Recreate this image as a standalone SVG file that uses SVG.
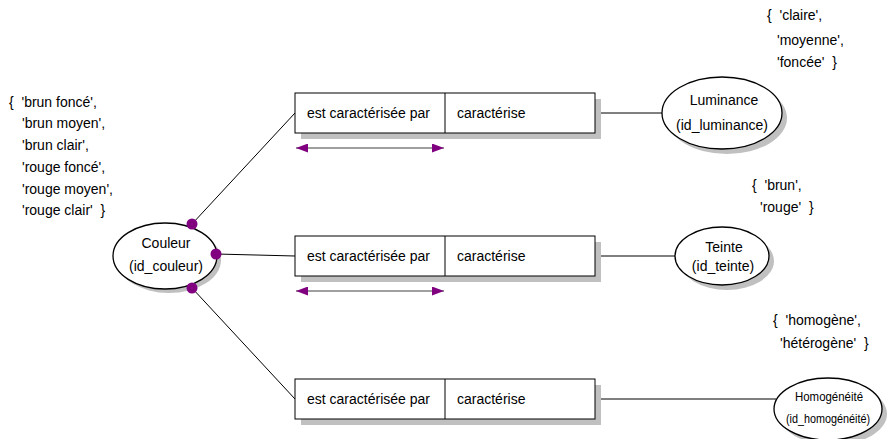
<svg xmlns="http://www.w3.org/2000/svg" width="890" height="439" viewBox="0 0 890 439">
<defs>
<marker id="ah" viewBox="0 0 12 9" refX="12" refY="4.5" markerWidth="12" markerHeight="9" markerUnits="userSpaceOnUse" orient="auto-start-reverse">
<path d="M0,0 L12,4.5 L0,9 Z" fill="#800080"/>
</marker>
</defs>
<style>
text{font-family:"Liberation Sans",Arial,sans-serif;font-size:14px;fill:#000}
.shadow{fill:#c0c0c0;stroke:none}
.box{fill:#fff;stroke:#000;stroke-width:1}
.ell{fill:#fff;stroke:#000;stroke-width:1.3}
.ln{stroke:#000;stroke-width:1;fill:none}
.dot{fill:#800080}
.arr{stroke:#404040;stroke-width:1.2;fill:none;marker-start:url(#ah);marker-end:url(#ah)}
.c{text-anchor:middle}
.sm{font-size:13px}
</style>
<rect width="890" height="439" fill="#fff"/>

<g id="connectors">
<line class="ln" x1="192" y1="224" x2="295" y2="113"/>
<line class="ln" x1="216" y1="254" x2="295" y2="256"/>
<line class="ln" x1="192" y1="288" x2="295" y2="399"/>
<line class="ln" x1="595" y1="113" x2="662" y2="113"/>
<line class="ln" x1="595" y1="256" x2="675" y2="256"/>
<line class="ln" x1="595" y1="399" x2="776" y2="399"/>
<line class="arr" x1="296" y1="148" x2="444" y2="148"/>
<line class="arr" x1="296" y1="291" x2="444" y2="291"/>
</g>

<g id="couleur">
<ellipse class="shadow" cx="169" cy="260" rx="52" ry="33"/>
<ellipse class="ell" cx="165" cy="256" rx="52" ry="33"/>
<text class="c" x="166" y="248">Couleur</text>
<text class="c" x="166" y="271">(id_couleur)</text>
<circle class="dot" cx="192" cy="224" r="5.5"/>
<circle class="dot" cx="216" cy="254" r="5.5"/>
<circle class="dot" cx="192" cy="288" r="5.5"/>
</g>

<g id="rel1">
<rect class="shadow" x="301" y="99" width="300" height="40"/>
<rect class="box" x="295" y="93" width="300" height="40"/>
<line class="ln" x1="445" y1="93" x2="445" y2="133"/>
<text x="307" y="118">est caractérisée par</text>
<text x="457" y="118">caractérise</text>
</g>

<g id="rel2">
<rect class="shadow" x="301" y="242" width="300" height="40"/>
<rect class="box" x="295" y="236" width="300" height="40"/>
<line class="ln" x1="445" y1="236" x2="445" y2="276"/>
<text x="307" y="261">est caractérisée par</text>
<text x="457" y="261">caractérise</text>
</g>

<g id="rel3">
<rect class="shadow" x="301" y="385" width="300" height="40"/>
<rect class="box" x="295" y="379" width="300" height="40"/>
<line class="ln" x1="445" y1="379" x2="445" y2="419"/>
<text x="307" y="404">est caractérisée par</text>
<text x="457" y="404">caractérise</text>
</g>

<g id="luminance">
<ellipse class="shadow" cx="727" cy="118" rx="60" ry="36"/>
<ellipse class="ell" cx="722" cy="113" rx="60" ry="36"/>
<text class="c" x="724" y="105">Luminance</text>
<text class="c" x="722" y="130">(id_luminance)</text>
</g>

<g id="teinte">
<ellipse class="shadow" cx="727" cy="261" rx="47" ry="29"/>
<ellipse class="ell" cx="722" cy="256" rx="47" ry="29"/>
<text class="c" x="724" y="252">Teinte</text>
<text class="c" x="723" y="271">(id_teinte)</text>
</g>

<g id="homogeneite">
<ellipse class="shadow" cx="833" cy="414" rx="54" ry="31"/>
<ellipse class="ell" cx="828" cy="409" rx="54" ry="31"/>
<text class="c sm" x="829" y="401" textLength="68" lengthAdjust="spacingAndGlyphs">Homogénéité</text>
<text class="c sm" x="828" y="423" textLength="84" lengthAdjust="spacingAndGlyphs">(id_homogénéité)</text>
</g>

<g id="domains">
<text x="9" y="107" xml:space="preserve">{  'brun foncé',</text>
<text x="22" y="128">'brun moyen',</text>
<text x="22" y="150">'brun clair',</text>
<text x="22" y="172">'rouge foncé',</text>
<text x="22" y="194">'rouge moyen',</text>
<text x="22" y="215" xml:space="preserve">'rouge clair'  }</text>
<text x="767" y="20" xml:space="preserve">{  'claire',</text>
<text x="777" y="45">'moyenne',</text>
<text x="777" y="67" xml:space="preserve">'foncée'  }</text>
<text x="752" y="190" xml:space="preserve">{  'brun',</text>
<text x="760" y="212" xml:space="preserve">'rouge'  }</text>
<text x="773" y="325" xml:space="preserve">{  'homogène',</text>
<text x="780" y="348" xml:space="preserve">'hétérogène'  }</text>
</g>
</svg>
